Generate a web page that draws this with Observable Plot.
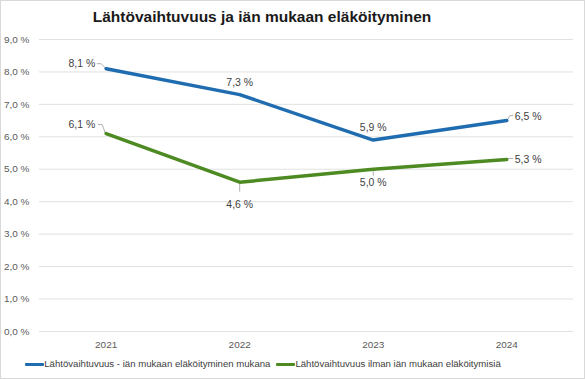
<!DOCTYPE html>
<html>
<head>
<meta charset="utf-8">
<script src="https://cdn.jsdelivr.net/npm/d3@7"></script>
<script src="https://cdn.jsdelivr.net/npm/@observablehq/plot@0.6"></script>
<style>
  html, body { margin: 0; padding: 0; background: #fff; }
  #chart { position: relative; width: 585px; height: 379px; box-sizing: border-box; border: 1px solid #d9d9d9; font-family: "Liberation Sans", Arial, sans-serif; overflow: hidden; }
  #title { position: absolute; left: 0; width: 522px; top: 7px; text-align: center; font-size: 15.5px; font-weight: bold; color: #1a1a1a; }
  #plot { position: absolute; left: -1px; top: 29px; }
  #legend { position: absolute; left: 0; width: 524px; top: 357px; text-align: center; font-size: 9.6px; color: #404040; white-space: nowrap; }
  .sw { display: inline-block; width: 19px; height: 3px; vertical-align: middle; border-radius: 1px; }
  .item { display: inline-block; margin: 0 3px; }
</style>
</head>
<body>
<div id="chart">
  <div id="title">Lähtövaihtuvuus ja iän mukaan eläköityminen</div>
  <div id="plot"></div>
  <div id="legend"></div>
</div>
<script>
const years = ["2021", "2022", "2023", "2024"];
const seriesNames = ["Lähtövaihtuvuus - iän mukaan eläköityminen mukana", "Lähtövaihtuvuus ilman iän mukaan eläköitymisiä"];
const withRetirement = [8.1, 7.3, 5.9, 6.5];
const withoutRetirement = [6.1, 4.6, 5.0, 5.3];
const yTicks = [0, 1, 2, 3, 4, 5, 6, 7, 8, 9];
const colors = ["#1f6db0", "#4e8a22"];

const fmt = v => v.toFixed(1).replace(".", ",") + " %";

const rows = [];
[withRetirement, withoutRetirement].forEach((vals, s) => {
  vals.forEach((v, i) => rows.push({year: years[i], value: v, series: seriesNames[s], s, i}));
});

// label placement logic: first point left, last point right, middle above (top series) / below (bottom series)
function place(d) {
  const last = years.length - 1;
  if (d.i === 0) return {anchor: "end", dx: -11, dy: d.s === 0 ? -5 : -9};
  if (d.i === last) return {anchor: "start", dx: 8, dy: d.s === 0 ? -4 : 0};
  return d.s === 0 ? {anchor: "middle", dx: 0, dy: -12} : {anchor: "middle", dx: 0, dy: d.i === 1 ? 22 : 13};
}
const labelGroups = {};
rows.forEach(d => {
  const p = place(d);
  const k = p.anchor + "|" + p.dx + "|" + p.dy;
  (labelGroups[k] = labelGroups[k] || {p, data: []}).data.push(d);
});

// leader line shapes
function leader(points) {
  return {draw(ctx) { ctx.moveTo(points[0][0], points[0][1]); for (const q of points.slice(1)) ctx.lineTo(q[0], q[1]); }};
}
function leaderFor(d) {
  const last = years.length - 1;
  if (d.i === 0) return d.s === 0 ? [[-1, -1], [-5, -5], [-9, -5]] : [[-1, -1], [-4, -9], [-8, -9]];
  if (d.i === last) return d.s === 0 ? [[1, -1], [3, -5], [6, -5]] : [[1, -1], [3, -1], [6, -1]];
  if (d.s === 1) return [[0, 2], [0, d.i === 1 ? 9 : 6]];
  return null;
}
const leaderMarks = rows.filter(d => leaderFor(d)).map(d =>
  Plot.vector([d], {x: "year", y: "value", length: 1, anchor: "start", stroke: "#b0b0b0", strokeWidth: 1, shape: leader(leaderFor(d))})
);

const chart = Plot.plot({
  width: 586,
  height: 326,
  marginTop: 9,
  marginBottom: 24,
  marginLeft: 39,
  marginRight: 11,
  style: {fontFamily: "'Liberation Sans', Arial, sans-serif", fontSize: "10px", color: "#595959", background: "transparent"},
  x: {type: "point", domain: years, padding: 0.5, label: null, tickSize: 0, tickPadding: 9},
  y: {domain: [0, 9], ticks: yTicks, tickFormat: fmt, label: null, tickSize: 0, tickPadding: 10},
  color: {domain: seriesNames, range: colors},
  marks: [
    Plot.gridY(yTicks, {stroke: "#e1e1e1", strokeOpacity: 1, strokeWidth: 1}),
    ...leaderMarks,
    Plot.line(rows, {x: "year", y: "value", z: "series", stroke: "series", strokeWidth: 3.5, strokeLinejoin: "round", strokeLinecap: "round"}),
    ...Object.values(labelGroups).map(g => Plot.text(g.data, {x: "year", y: "value", text: d => fmt(d.value), textAnchor: g.p.anchor, dx: g.p.dx, dy: g.p.dy, fill: "#404040", fontSize: 10.5}))
  ]
});
document.getElementById("plot").appendChild(chart);

const legend = document.getElementById("legend");
seriesNames.forEach((n, k) => {
  const item = document.createElement("span");
  item.className = "item";
  const sw = document.createElement("span");
  sw.className = "sw";
  sw.style.background = colors[k];
  item.appendChild(sw);
  item.appendChild(document.createTextNode(n));
  legend.appendChild(item);
});
</script>
</body>
</html>
